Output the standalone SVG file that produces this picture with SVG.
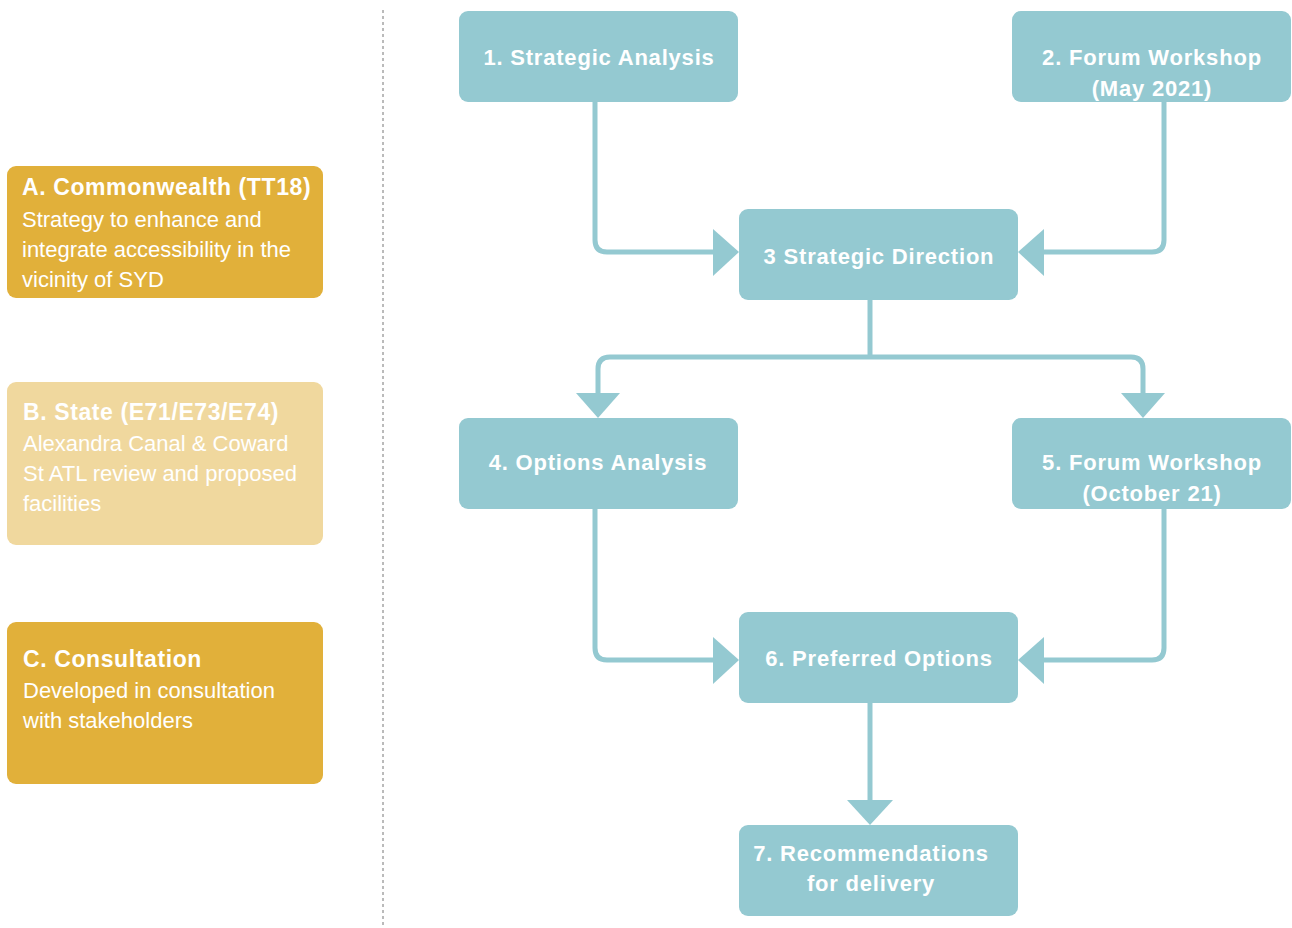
<svg xmlns="http://www.w3.org/2000/svg" width="1292" height="928" viewBox="0 0 1292 928">
<style>
.t{fill:#94c9d1}
.g{fill:#e1b03a}
.lg{fill:#f0d89e}
.tt{font-family:"Liberation Sans",Arial,sans-serif;font-weight:bold;font-size:22px;letter-spacing:0.8px;fill:#fff;text-anchor:middle}
.h{font-family:"Liberation Sans",Arial,sans-serif;font-weight:bold;font-size:23px;letter-spacing:0.6px;fill:#fff}
.b{font-family:"Liberation Sans",Arial,sans-serif;font-size:22px;fill:#fff}
.c{fill:none;stroke:#94c9d1;stroke-width:5}
.a{fill:#94c9d1}
</style>
<rect width="1292" height="928" fill="#fff"/>
<line x1="383" y1="10" x2="383" y2="928" stroke="#777" stroke-width="1" stroke-dasharray="3,3"/>
<g id="nodeA"><rect class="g" x="7" y="166" width="316" height="132" rx="9"/>
<text class="h" x="22" y="195">A. Commonwealth (TT18)</text>
<text class="b" x="22" y="227">Strategy to enhance and</text>
<text class="b" x="22" y="257">integrate accessibility in the</text>
<text class="b" x="22" y="287">vicinity of SYD</text></g>
<g id="nodeB"><rect class="lg" x="7" y="382" width="316" height="163" rx="9"/>
<text class="h" x="23" y="420">B. State (E71/E73/E74)</text>
<text class="b" x="23" y="451">Alexandra Canal &amp; Coward</text>
<text class="b" x="23" y="481">St ATL review and proposed</text>
<text class="b" x="23" y="511">facilities</text></g>
<g id="nodeC"><rect class="g" x="7" y="622" width="316" height="162" rx="9"/>
<text class="h" x="23" y="667">C. Consultation</text>
<text class="b" x="23" y="698">Developed in consultation</text>
<text class="b" x="23" y="728">with stakeholders</text></g>
<g id="connectors">
<path class="c" d="M595,102 V240 Q595,252 607,252 H716"/>
<polygon class="a" points="713,229 739,252 713,276"/>
<path class="c" d="M1164,102 V240 Q1164,252 1152,252 H1042"/>
<polygon class="a" points="1044,229 1018,252 1044,276"/>
<path class="c" d="M870,300 V357"/>
<path class="c" d="M598,396 V369 Q598,357 610,357 H1131 Q1143,357 1143,369 V396"/>
<polygon class="a" points="576,393 620,393 598,418"/>
<polygon class="a" points="1121,393 1165,393 1143,418"/>
<path class="c" d="M595,509 V648 Q595,660 607,660 H716"/>
<polygon class="a" points="713,637 739,660 713,684"/>
<path class="c" d="M1164,509 V648 Q1164,660 1152,660 H1042"/>
<polygon class="a" points="1044,637 1018,660 1044,684"/>
<path class="c" d="M870,703 V803"/>
<polygon class="a" points="847,800 893,800 870,825"/>
</g>
<g id="node1"><rect class="t" x="459" y="11" width="279" height="91" rx="9"/>
<text class="tt" x="599" y="65">1. Strategic Analysis</text></g>
<g id="node2"><rect class="t" x="1012" y="11" width="279" height="91" rx="9"/>
<text class="tt" x="1152" y="65">2. Forum Workshop</text>
<text class="tt" x="1152" y="96">(May 2021)</text></g>
<g id="node3"><rect class="t" x="739" y="209" width="279" height="91" rx="9"/>
<text class="tt" x="879" y="264">3 Strategic Direction</text></g>
<g id="node4"><rect class="t" x="459" y="418" width="279" height="91" rx="9"/>
<text class="tt" x="598" y="470">4. Options Analysis</text></g>
<g id="node5"><rect class="t" x="1012" y="418" width="279" height="91" rx="9"/>
<text class="tt" x="1152" y="470">5. Forum Workshop</text>
<text class="tt" x="1152" y="501">(October 21)</text></g>
<g id="node6"><rect class="t" x="739" y="612" width="279" height="91" rx="9"/>
<text class="tt" x="879" y="666">6. Preferred Options</text></g>
<g id="node7"><rect class="t" x="739" y="825" width="279" height="91" rx="9"/>
<text class="tt" x="871" y="861">7. Recommendations</text>
<text class="tt" x="871" y="891">for delivery</text></g>
</svg>
